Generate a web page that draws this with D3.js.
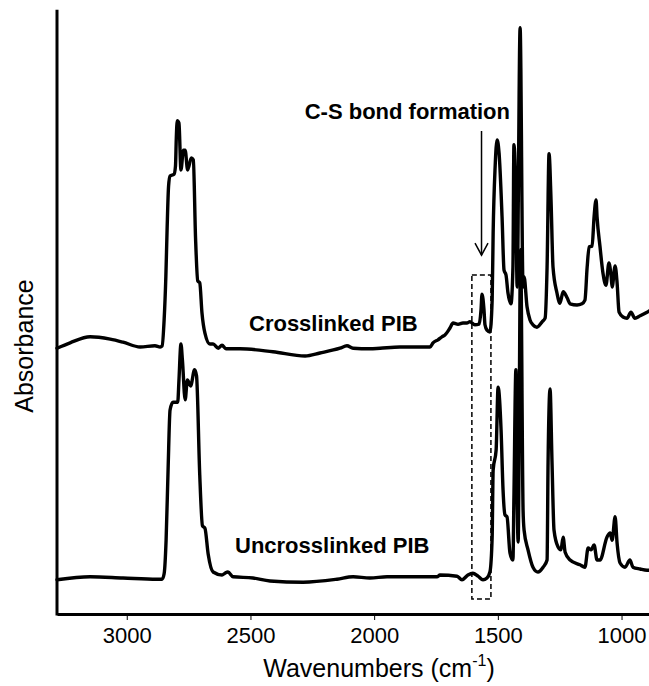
<!DOCTYPE html>
<html>
<head>
<meta charset="utf-8">
<script src="https://cdn.jsdelivr.net/npm/d3@7"></script>
<style>
  body { margin: 0; background: #fff; }
  svg { display: block; font-family: "Liberation Sans", Arial, sans-serif; }
</style>
</head>
<body>
<svg id="chart"></svg>
<script>
// FTIR spectra, wavenumber (cm-1) vs absorbance (arbitrary units, curves offset)
const wnCross = [3282, 3229, 3148, 3067, 3015, 2946, 2886, 2865, 2857, 2849, 2842, 2837, 2831, 2825, 2809, 2803, 2800, 2796, 2789, 2781, 2771, 2764, 2754, 2739, 2731, 2722, 2713, 2705, 2696, 2684, 2664, 2651, 2630, 2615, 2599, 2542, 2409, 2279, 2219, 2138, 2110, 2085, 2017, 1976, 1896, 1774, 1762, 1742, 1726, 1714, 1693, 1681, 1661, 1641, 1625, 1613, 1593, 1576, 1568, 1564, 1556, 1552, 1544, 1532, 1523, 1519, 1511, 1503, 1495, 1483, 1475, 1467, 1459, 1447, 1439, 1435, 1427, 1422, 1410, 1398, 1394, 1382, 1370, 1358, 1342, 1321, 1309, 1301, 1293, 1285, 1277, 1261, 1249, 1236, 1220, 1208, 1180, 1160, 1148, 1139, 1131, 1119, 1111, 1103, 1099, 1087, 1075, 1063, 1051, 1042, 1038, 1026, 1018, 1010, 994, 978, 962, 946, 925, 897, 889];
const absCross = [44.3, 45.2, 46.2, 45.8, 45.3, 44.5, 44.7, 44.5, 44.7, 49, 56.2, 64, 71.3, 73, 73.3, 74.7, 79, 82.2, 81.8, 74, 77.3, 77.3, 74, 76, 75.7, 62.7, 55.5, 55.2, 50.2, 46.8, 45, 45, 44.3, 44.8, 44.2, 44.2, 43.7, 43, 43.5, 44.3, 44.7, 44.3, 44.2, 44.3, 44.5, 44.5, 45.2, 45.7, 46.2, 46.5, 47.7, 48.5, 48.3, 48.5, 48.5, 48.7, 48.2, 48.3, 50.7, 53.3, 50.7, 48.2, 47.3, 47, 52.3, 63.5, 74.5, 79, 76.8, 66.2, 57.3, 56.5, 53.5, 51.7, 57.8, 78.2, 69, 54.5, 97.7, 54.5, 56.2, 51.2, 49, 48.2, 47.8, 48.7, 49.3, 57.8, 76.7, 69, 57.8, 53.5, 51.8, 53.7, 52.7, 51.7, 51.5, 51.7, 52.3, 57.8, 61.2, 61.3, 66.2, 69, 66.2, 61.2, 56.8, 54.8, 58.5, 56.2, 54.5, 58, 55.2, 50.3, 49.5, 49.3, 50.3, 49.3, 49.7, 50.3, 50.5];

const wnUncross = [3282, 3148, 3015, 2878, 2857, 2849, 2841, 2833, 2825, 2813, 2794, 2789, 2781, 2775, 2764, 2755, 2742, 2726, 2718, 2705, 2694, 2684, 2671, 2651, 2615, 2603, 2591, 2570, 2490, 2421, 2287, 2150, 2085, 2017, 1948, 1815, 1746, 1734, 1665, 1645, 1621, 1601, 1580, 1560, 1544, 1532, 1523, 1519, 1507, 1499, 1487, 1479, 1471, 1463, 1451, 1439, 1435, 1427, 1422, 1418, 1408, 1398, 1394, 1378, 1358, 1338, 1317, 1301, 1297, 1289, 1281, 1273, 1257, 1245, 1236, 1228, 1208, 1168, 1148, 1135, 1123, 1111, 1099, 1087, 1059, 1046, 1038, 1026, 1018, 1006, 986, 966, 954, 925, 897, 889];
const absUncross = [5.7, 6.2, 6, 5.8, 5.8, 6.7, 12.3, 24, 34, 35.3, 35.3, 39, 45, 42.3, 35.7, 39, 38, 40.7, 39.7, 23.2, 14.7, 14.3, 10, 7, 6.5, 6.8, 7, 6.2, 6, 5.5, 5.3, 5.8, 6.2, 6, 6.2, 6.2, 6.2, 6.5, 6.3, 5.7, 6.5, 6.8, 6.3, 5.7, 6, 7, 12.8, 24, 27.3, 37.8, 30.7, 20.7, 16.5, 16.2, 10.2, 9, 19.5, 40.7, 19.5, 12, 60.7, 17.3, 14, 10.7, 7.8, 7, 7.8, 9, 25.2, 37.5, 25.2, 14, 11.2, 10.7, 12.8, 10.3, 9, 8.2, 7.8, 11, 10.7, 11.5, 9, 9, 12.8, 13.5, 12.3, 16.2, 11.8, 8.5, 7.8, 9, 7.8, 7.5, 7.3, 7.3];

const xTicks = [3000, 2500, 2000, 1500, 1000];
const seriesLabels = ["Crosslinked PIB", "Uncrosslinked PIB"];
const annotationText = "C-S bond formation";
const boxWn = [1605, 1528];      // dashed box around the C-S band
const boxAbs = [56.5, 2.5];
const arrowWn = 1566;
const arrowAbs = [80.5, 59.8];

const width = 649, height = 686;
const svg = d3.select("#chart").attr("width", width).attr("height", height);

const x = d3.scaleLinear().domain([3282, 889]).range([57, 649]);
const y = d3.scaleLinear().domain([0, 100.7]).range([614, 9.8]);

const line = d3.line()
  .x(d => x(d[0]))
  .y(d => y(d[1]))
  .curve(d3.curveMonotoneX);

const crossData = wnCross.map((w, i) => [w, absCross[i]]);
const uncrossData = wnUncross.map((w, i) => [w, absUncross[i]]);

[uncrossData, crossData].forEach(data => {
  svg.append("path")
    .attr("d", line(data))
    .attr("fill", "none")
    .attr("stroke", "#000")
    .attr("stroke-width", 3.4)
    .attr("stroke-linejoin", "round")
    .attr("stroke-linecap", "round");
});

// dashed box
svg.append("rect")
  .attr("x", x(boxWn[0]))
  .attr("y", y(boxAbs[0]))
  .attr("width", x(boxWn[1]) - x(boxWn[0]))
  .attr("height", y(boxAbs[1]) - y(boxAbs[0]))
  .attr("fill", "none")
  .attr("stroke", "#000")
  .attr("stroke-width", 1.5)
  .attr("stroke-dasharray", "5,3");

// arrow
const ax = x(arrowWn), ay0 = y(arrowAbs[0]), ay1 = y(arrowAbs[1]);
svg.append("line")
  .attr("x1", ax).attr("x2", ax)
  .attr("y1", ay0).attr("y2", ay1)
  .attr("stroke", "#000").attr("stroke-width", 1.5);
svg.append("path")
  .attr("d", `M${ax - 6.5},${ay1 - 12} L${ax},${ay1} L${ax + 6.5},${ay1 - 12}`)
  .attr("fill", "none").attr("stroke", "#000").attr("stroke-width", 1.5);

// axes
const xAxis = d3.axisBottom(x).tickValues(xTicks).tickSize(6).tickSizeOuter(0).tickFormat(d3.format("d"));
const xAxisG = svg.append("g").attr("transform", `translate(0,${y(0)})`).call(xAxis);
xAxisG.select(".domain").attr("stroke-width", 3);
xAxisG.selectAll(".tick line").attr("stroke-width", 1);
xAxisG.selectAll(".tick text")
  .attr("y", 29).attr("dy", 0)
  .attr("font-size", 22)
  .attr("font-family", "Liberation Sans, Arial, sans-serif")
  .attr("fill", "#000");

svg.append("line")
  .attr("x1", x.range()[0]).attr("x2", x.range()[0])
  .attr("y1", y.range()[1]).attr("y2", y(0) + 1.5)
  .attr("stroke", "#000").attr("stroke-width", 3);

// axis titles
const xt = svg.append("text")
  .attr("x", 379).attr("y", 677)
  .attr("text-anchor", "middle")
  .attr("font-size", 25);
xt.append("tspan").text("Wavenumbers (cm");
xt.append("tspan").attr("font-size", 16).attr("dy", -11).text("-1");
xt.append("tspan").attr("dy", 11).text(")");

svg.append("text")
  .attr("transform", "translate(33,346) rotate(-90)")
  .attr("text-anchor", "middle")
  .attr("font-size", 25)
  .text("Absorbance");

// labels
svg.append("text")
  .attr("x", 249).attr("y", 331)
  .attr("font-size", 22).attr("font-weight", "bold")
  .text(seriesLabels[0]);
svg.append("text")
  .attr("x", 235).attr("y", 553)
  .attr("font-size", 22).attr("font-weight", "bold")
  .text(seriesLabels[1]);
svg.append("text")
  .attr("x", 510).attr("y", 119)
  .attr("text-anchor", "end")
  .attr("font-size", 22).attr("font-weight", "bold")
  .text(annotationText);
</script>
</body>
</html>
